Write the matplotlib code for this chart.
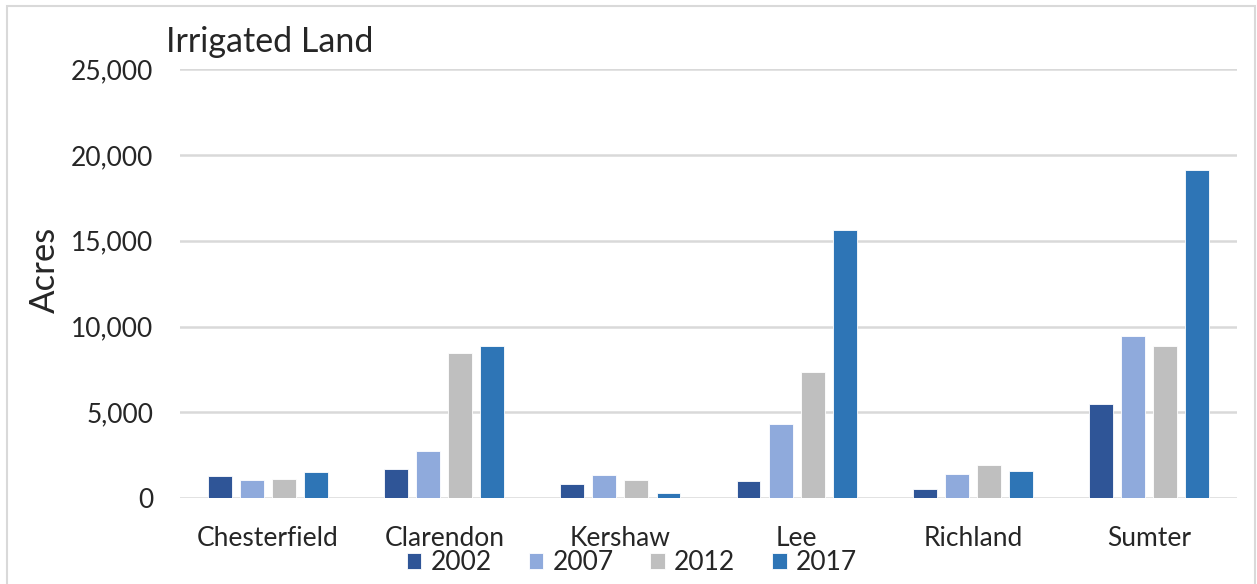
import numpy as np
import matplotlib
matplotlib.use("Agg")
import matplotlib.pyplot as plt
from matplotlib.patches import Rectangle
from matplotlib.ticker import FuncFormatter

counties = ["Chesterfield", "Clarendon", "Kershaw", "Lee", "Richland", "Sumter"]
years = ["2002", "2007", "2012", "2017"]
acres_2002 = [1280, 1700, 860, 1010, 525, 5520]
acres_2007 = [1050, 2750, 1380, 4300, 1410, 9480]
acres_2012 = [1100, 8490, 1090, 7370, 1940, 8870]
acres_2017 = [1550, 8870, 330, 15600, 1570, 19090]
series = [acres_2002, acres_2007, acres_2012, acres_2017]
colors = ["#2f5597", "#8faadc", "#bfbfbf", "#2e75b6"]

plt.rcParams["font.family"] = ["Lato", "DejaVu Sans"]
text_color = "#262626"

W, H = 1257, 584
fig = plt.figure(figsize=(W / 100, H / 100), dpi=100)
fig.patch.set_facecolor("white")

# outer chart frame
fig.add_artist(Rectangle((7 / W, -0.01), (1255 - 7) / W, 1 - 6 / H + 0.01,
                         transform=fig.transFigure, fill=False,
                         edgecolor="#d9d9d9", linewidth=1.5))

ax = fig.add_axes([180 / W, 1 - 498.3 / H, (1237 - 180) / W, (498.3 - 69) / H])

x = np.arange(len(counties))
slot = 0.182
width = 0.136
for i, (vals, col, yr) in enumerate(zip(series, colors, years)):
    ax.bar(x + (i - 1.5) * slot, vals, width, color=col, label=yr,
           edgecolor="white", linewidth=0.6, zorder=3)

ax.set_xlim(-0.5, len(counties) - 0.5)
ax.set_ylim(0, 25000)
ax.set_yticks(np.arange(0, 25001, 5000))
ax.yaxis.set_major_formatter(FuncFormatter(lambda v, p: f"{int(v):,}"))
ax.set_xticks(x)
ax.set_xticklabels(counties)
ax.grid(axis="y", color="#d9d9d9", linewidth=1.8, zorder=0)
for s in ax.spines.values():
    s.set_visible(False)
ax.tick_params(axis="both", length=0, labelsize=19, colors=text_color)
ax.tick_params(axis="y", pad=19)
ax.tick_params(axis="x", pad=20)

fig.text(45 / W, 1 - 270 / H, "Acres", fontsize=25, color=text_color,
         rotation=90, ha="center", va="center")
fig.text(166 / W, 1 - 42 / H, "Irrigated Land", fontsize=24.5, color=text_color,
         ha="left", va="center")

fig.legend(loc="center", bbox_to_anchor=(632 / W, 1 - 563 / H), ncol=4,
           frameon=False, fontsize=19, handlelength=0.55, handleheight=0.55,
           handletextpad=0.35, columnspacing=1.4, labelcolor=text_color,
           borderpad=0.1)

fig.savefig("out.png", dpi=100, facecolor="white")
